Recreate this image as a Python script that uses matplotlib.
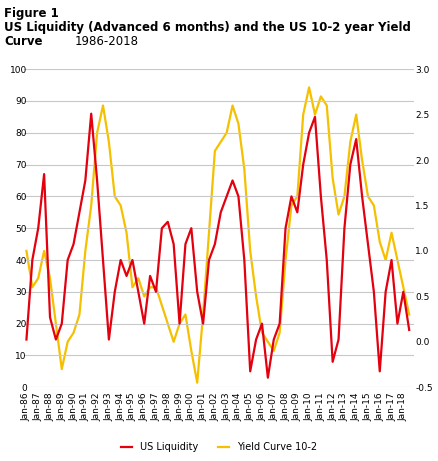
import numpy as np
import matplotlib.pyplot as plt

# half-yearly readings, starting Jan-1986
liq_years = np.arange(1986, 2018.6, 0.5)
us_liquidity = [15, 40, 50, 67, 22, 15, 20, 40, 45, 55, 65, 86, 65, 40, 15, 30,
                40, 35, 40, 30, 20, 35, 30, 50, 52, 45, 20, 45, 50, 30, 20, 40,
                45, 55, 60, 65, 60, 40, 5, 15, 20, 3, 15, 20, 50, 60, 55, 70,
                80, 85, 60, 40, 8, 15, 50, 70, 78, 60, 45, 30, 5, 30, 40, 20,
                30, 18]
yield_curve = [1.0, 0.6, 0.7, 1.0, 0.7, 0.2, -0.3, 0.0, 0.1, 0.3, 1.0, 1.5,
               2.3, 2.6, 2.2, 1.6, 1.5, 1.2, 0.6, 0.7, 0.5, 0.6, 0.6, 0.4,
               0.2, 0.0, 0.2, 0.3, -0.1, -0.45, 0.3, 1.2, 2.1, 2.2, 2.3, 2.6,
               2.4, 1.9, 1.0, 0.5, 0.1, 0.0, -0.1, 0.1, 0.9, 1.5, 1.6, 2.5,
               2.8, 2.5, 2.7, 2.6, 1.8, 1.4, 1.6, 2.2, 2.5, 2.0, 1.6, 1.5,
               1.1, 0.9, 1.2, 0.9, 0.6, 0.3]
tick_years = np.arange(1986, 2019)
tick_labels = ['Jan-%02d' % (y % 100) for y in tick_years]

fig = plt.figure(figsize=(4.38, 4.61), dpi=100)
ax = fig.add_axes([0.055, 0.16, 0.89, 0.69])
ax2 = ax.twinx()

ax.plot(liq_years, us_liquidity, color='#e3000f', lw=1.6, label='US Liquidity')
ax2.plot(liq_years, yield_curve, color='#f5c000', lw=1.6, label='Yield Curve 10-2')

ax.set_ylim(0, 100)
ax.set_yticks(range(0, 101, 10))
ax2.set_ylim(-0.5, 3.0)
ax2.set_yticks(np.arange(-0.5, 3.01, 0.5))
ax2.set_yticklabels(['-0.5', '0.0', '0.5', '1.0', '1.5', '2.0', '2.5', '3.0'])
ax.set_xlim(1985.8, 2018.9)
ax.set_xticks(tick_years)
ax.set_xticklabels(tick_labels, rotation=90, fontsize=6.5)
ax.grid(axis='y', color='#c8c8c8', lw=0.8)
ax.set_zorder(ax2.get_zorder() + 1)
ax.patch.set_visible(False)
for a in (ax, ax2):
    for s in a.spines.values():
        s.set_visible(False)
    a.tick_params(length=0, labelsize=6.5)
ax.tick_params(axis='y', pad=-2)
ax2.tick_params(axis='y', pad=1)

fig.text(0.01, 0.985, 'Figure 1', fontsize=8.5, fontweight='bold', va='top')
fig.text(0.01, 0.955, 'US Liquidity (Advanced 6 months) and the US 10-2 year Yield',
         fontsize=8.5, fontweight='bold', va='top')
fig.text(0.01, 0.925, 'Curve', fontsize=8.5, fontweight='bold', va='top')
fig.text(0.17, 0.925, '1986-2018', fontsize=8.5, va='top')

h1, l1 = ax.get_legend_handles_labels()
h2, l2 = ax2.get_legend_handles_labels()
fig.legend(h1 + h2, l1 + l2, loc='lower center', ncol=2, frameon=False,
           fontsize=7, handlelength=1.2, bbox_to_anchor=(0.5, 0.0))
fig.savefig('out.png', dpi=100)
